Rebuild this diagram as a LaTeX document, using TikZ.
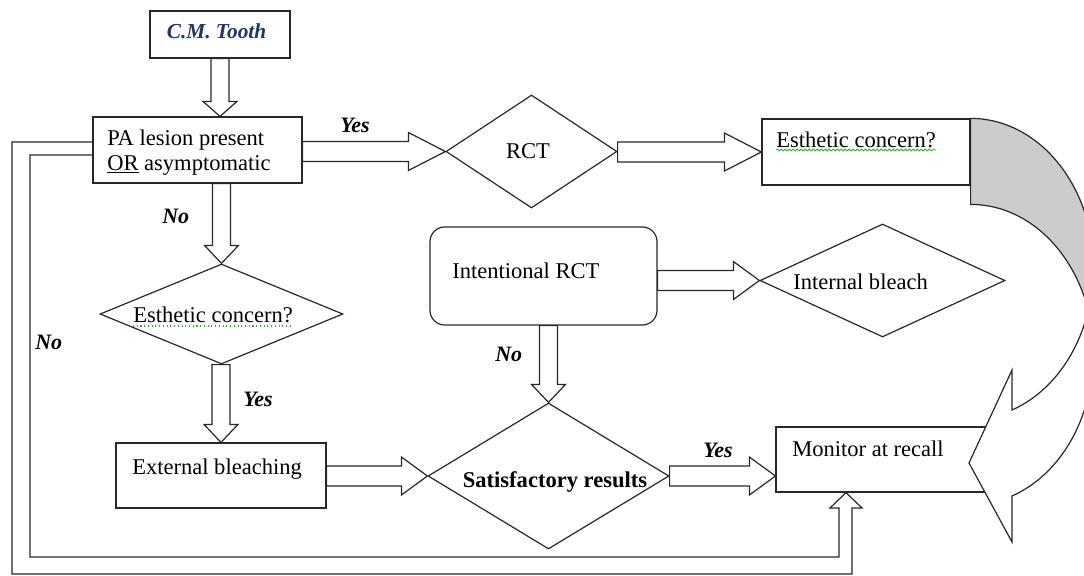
\documentclass[tikz,border=0pt]{standalone}
\usepackage{fontspec}
\setmainfont{Liberation Serif}
\usetikzlibrary{shapes.geometric,calc,fit,decorations.pathmorphing}

\definecolor{linec}{RGB}{40,40,40}
\definecolor{bandgray}{RGB}{204,204,204}
\definecolor{toothblue}{RGB}{31,56,100}
\definecolor{spellgreen}{RGB}{60,170,60}

\tikzset{
  box/.style={draw=linec, line width=0.9pt, fill=white, inner sep=0pt},
  rbox/.style={box, rounded corners=11pt},
  dia/.style={draw=linec, line width=0.9pt, fill=white, diamond, inner sep=0pt},
  hollow/.style={draw=linec, line width=0.9pt, fill=white, line join=miter},
  txt/.style={inner sep=0pt, font=\fontsize{16.9}{18.75}\selectfont, anchor=base west},
  lab/.style={inner sep=0pt, font=\fontsize{16.5}{18}\selectfont\bfseries\itshape, anchor=base west},
  spellwave/.style={draw=spellgreen, line width=0.6pt, decorate,
    decoration={snake, amplitude=0.7pt, segment length=3pt}},
  spelldot/.style={draw=spellgreen, line width=0.8pt, dotted},
}

% horizontal hollow arrow: source, target, head length
\newcommand\hArrow[3]{%
  \draw[hollow] let \p1=(#1), \p2=(#2) in
    (\x1,\y2+7.5pt) -- (\x2-#3,\y2+7.5pt) -- (\x2-#3,\y2+14.25pt) -- (\x2,\y2)
    -- (\x2-#3,\y2-14.25pt) -- (\x2-#3,\y2-7.5pt) -- (\x1,\y2-7.5pt) -- cycle;}
% vertical (downward) hollow arrow: source, target, head length
\newcommand\vArrow[3]{%
  \draw[hollow] let \p1=(#1), \p2=(#2) in
    (\x2-6.75pt,\y1) -- (\x2-6.75pt,\y2+#3) -- (\x2-12.75pt,\y2+#3) -- (\x2,\y2)
    -- (\x2+12.75pt,\y2+#3) -- (\x2+6.75pt,\y2+#3) -- (\x2+6.75pt,\y1) -- cycle;}

\begin{document}
\begin{tikzpicture}[x=0.75pt, y=-0.75pt]
\useasboundingbox (0,0) rectangle (1084,575);
\fill[white] (0,0) rectangle (1084,575);

% ---- shapes ----
\node[box, fit={(150,11) (290,58)}] (tooth) {};
\node[box, fit={(93,117) (302,183)}] (pa) {};
\node[dia, minimum width=128.25pt, minimum height=84.75pt] (rct) at (531.5,151.5) {};
\node[box, fit={(762,119) (970,185)}] (est2) {};
\node[rbox, fit={(430,227) (657,325)}] (intent) {};
\node[dia, minimum width=183.75pt, minimum height=84.75pt] (ib) at (882.5,280.5) {};
\node[dia, minimum width=182.25pt, minimum height=75pt] (est) at (221.5,314) {};
\node[box, fit={(116,443) (326,508)}] (ext) {};
\node[dia, minimum width=180.75pt, minimum height=109.5pt] (sat) at (548.5,476) {};
\node[box, fit={(776,427) (1005,492)}] (mon) {};

% ---- loop pipe (No) from PA box to Monitor ----
\coordinate (montip) at (846,0 |- mon.south);
\draw[hollow, fill=none] ($(pa.west)+(0,-8)$) -- (12,142) -- (12,574) -- (852,574)
  -- (852,508) -- (862,508) -- (montip) -- (830,508) -- (839,508) -- (839,557)
  -- (30,557) -- (30,155) -- ($(pa.west)+(0,5)$);

% ---- block arrows ----
\vArrow{tooth.south}{tooth.south |- pa.north}{11.25pt}
\hArrow{pa.east}{rct.west}{27.75pt}
\hArrow{rct.east}{est2.west}{27.75pt}
\vArrow{pa.south}{est.north}{13.5pt}
\vArrow{est.south}{ext.north}{13.5pt}
\hArrow{intent.east}{ib.west}{19.5pt}
\vArrow{intent.south}{sat.north}{13.5pt}
\hArrow{ext.east}{sat.west}{19.5pt}
\hArrow{sat.east}{mon.west |- sat.east}{19.5pt}

% ---- curved arrow on the right ----
\begin{scope}
\clip (0,0) rectangle (1084,575);
\draw[draw=linec, line width=0.9pt, fill=bandgray] (est2.north east)
  arc[start angle=-90, end angle=0, x radius=123, y radius=150] -- ++(0,86)
  arc[start angle=0, end angle=-90, x radius=123, y radius=150] -- cycle;
\draw[hollow] (1012,410) -- (1012,370) -- (969,463) -- (1012,542) -- (1012,496)
  arc[start angle=70, end angle=0, x radius=123, y radius=150] -- (1093,269)
  arc[start angle=0, end angle=70, x radius=123, y radius=150] -- cycle;
\end{scope}

% ---- texts ----
\node[inner sep=0pt, anchor=base, text=toothblue,
      font=\fontsize{16}{18}\selectfont\bfseries\itshape] (toothT) at (216.5,38) {C.M. Tooth};
\node[txt] (paT1) at (107,145) {PA lesion present};
\node[txt] (paT2) at (107,170) {\underline{OR} asymptomatic};
\node[txt, anchor=base] (rctT) at (528,158) {RCT};
\node[txt] (est2T) at (776,147) {Esthetic concern?};
\node[txt] (intT) at (452,278) {Intentional RCT};
\node[txt] (ibT) at (793,289) {Internal bleach};
\node[txt] (estT) at (133,322) {Esthetic concern?};
\node[txt] (extT) at (132,474) {External bleaching};
\node[txt, anchor=base, font=\fontsize{16.9}{18.75}\selectfont\bfseries] (satT) at (555,487) {Satisfactory results};
\node[txt] (monT) at (792,456) {Monitor at recall};

\node[lab] (yes1) at (340,132) {Yes};
\node[lab] (no1) at (162,223) {No};
\node[lab] (no2) at (35,349) {No};
\node[lab] (yes2) at (243,406) {Yes};
\node[lab] (no3) at (495,361) {No};
\node[lab] (yes3) at (703,457) {Yes};

% spell-check underlines
\draw[spellwave] ($(est2T.base west)+(0,3)$) -- ($(est2T.base east)+(0,3)$);
\draw[spelldot] ($(estT.base west)+(0,4)$) -- ($(estT.base east)+(0,4)$);
\end{tikzpicture}
\end{document}
